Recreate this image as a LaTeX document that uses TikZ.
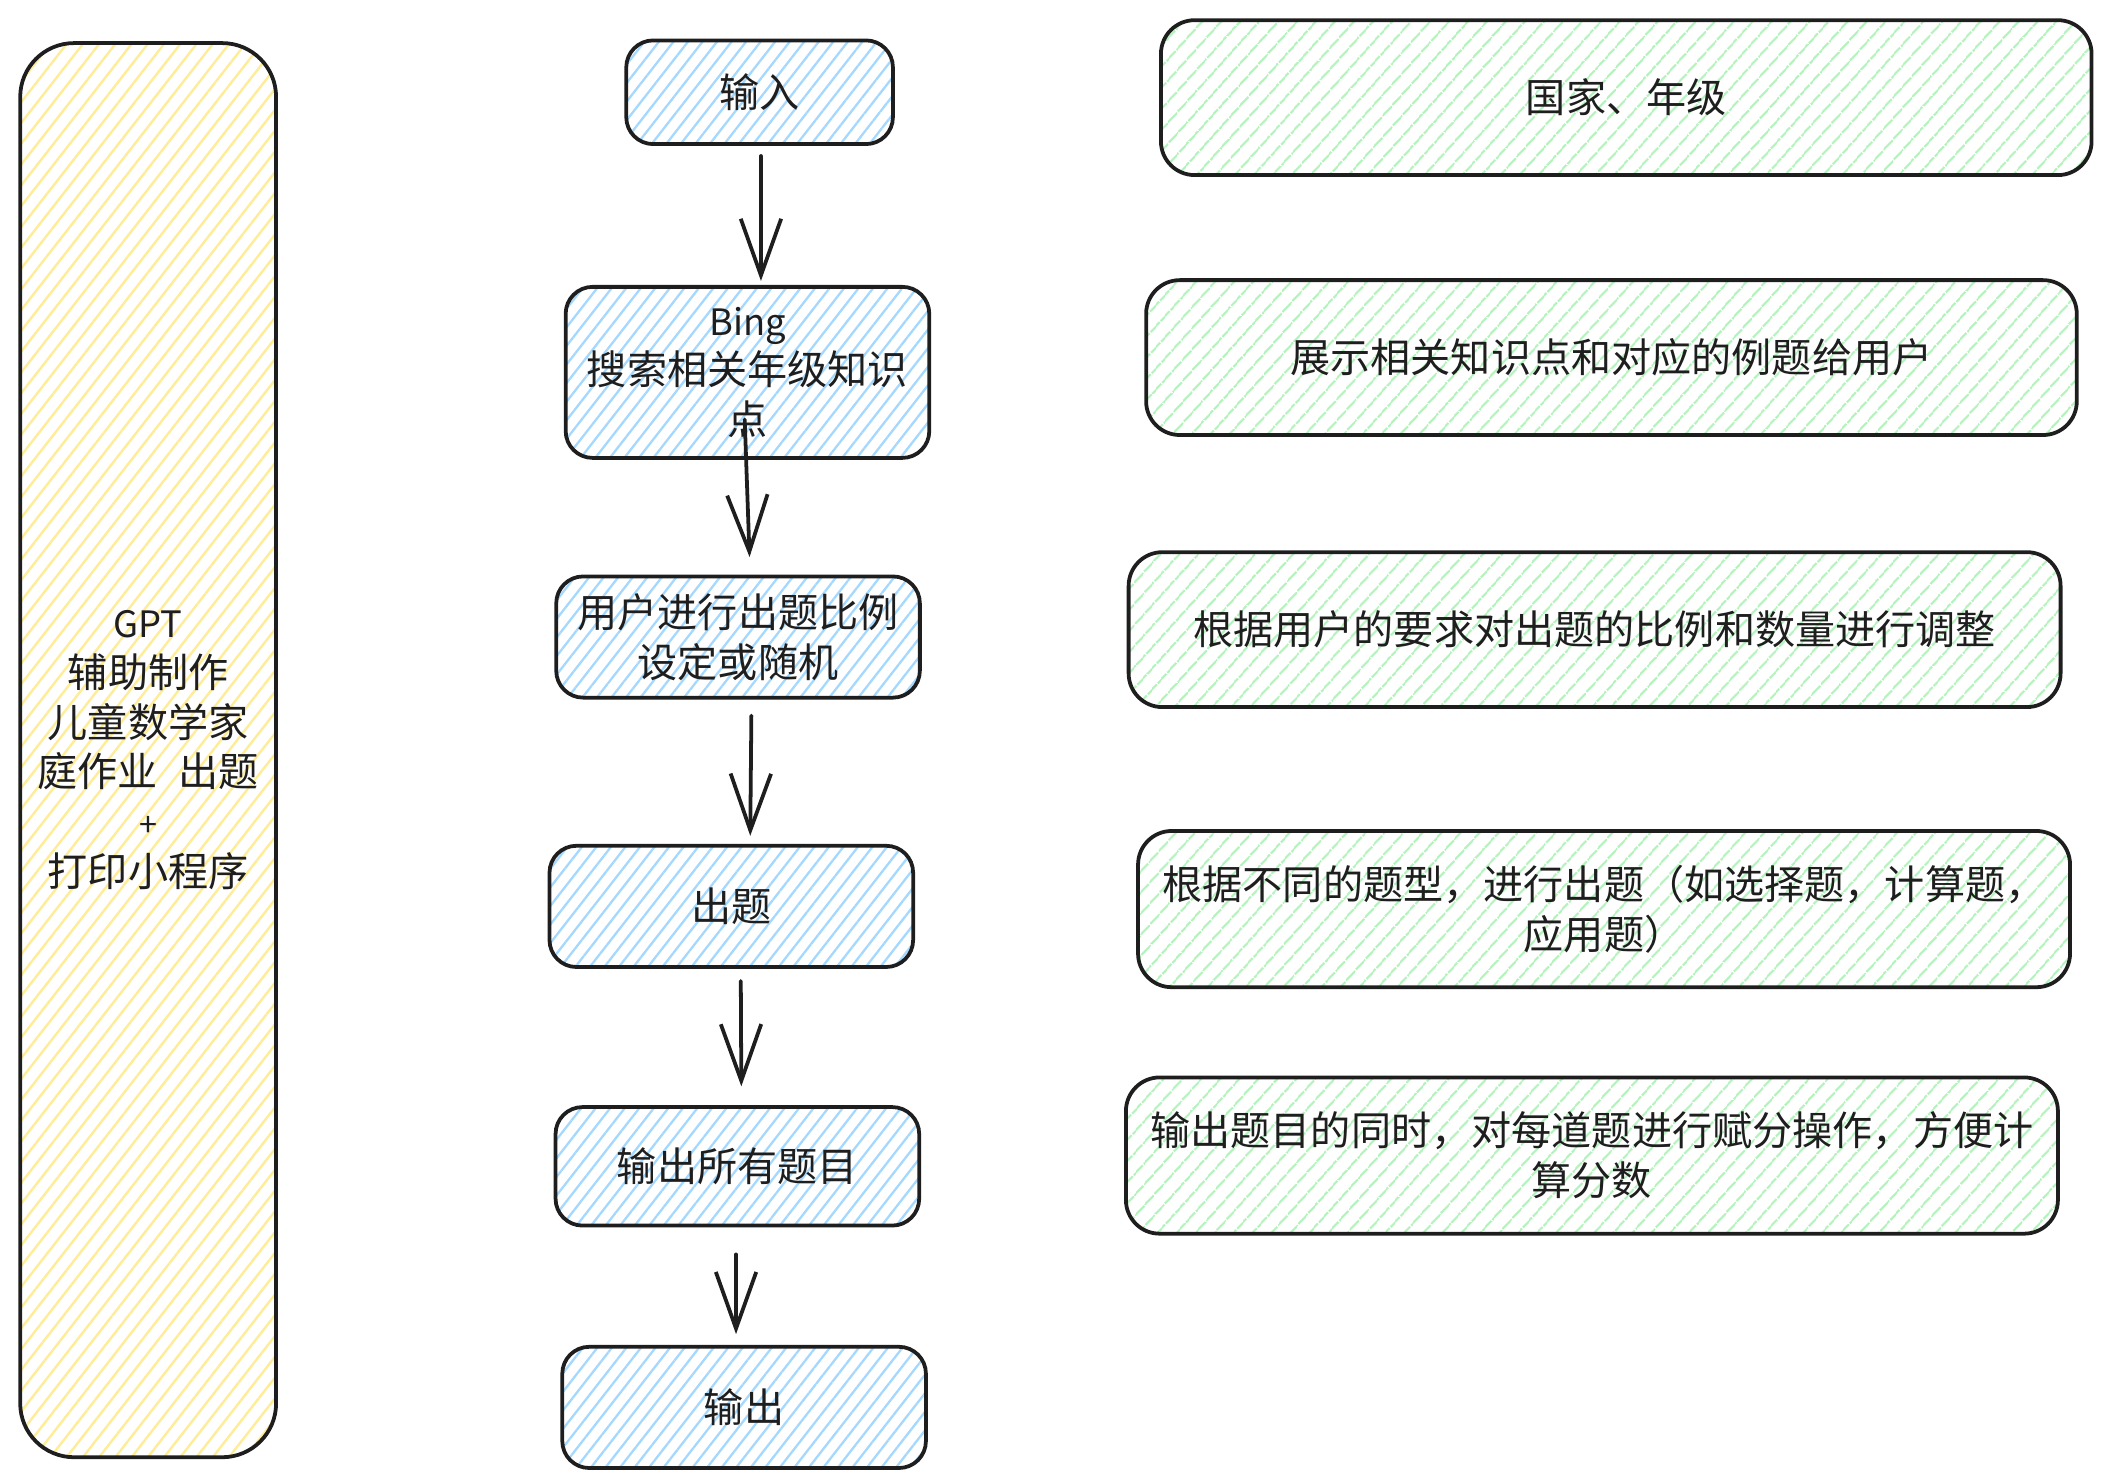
\documentclass[tikz,border=0pt]{standalone}
\usepackage{fontspec}
\setmainfont{Noto Sans CJK SC}
\usetikzlibrary{arrows.meta,patterns.meta}
\definecolor{ink}{HTML}{1E1E1E}
\definecolor{hatchblue}{HTML}{A5D8FF}
\definecolor{hatchgreen}{HTML}{B2F2BB}
\definecolor{hatchyellow}{HTML}{FFEC99}

\begin{document}
\begin{tikzpicture}[x=1pt,y=-1pt,
  every node/.style={draw=ink,line width=2.8pt,text=ink,inner sep=0,align=center,
    font=\fontsize{29.8}{37}\selectfont},
  side/.style={rounded corners=40pt,minimum width=190pt,minimum height=1050pt,
    pattern={Lines[angle=52,distance=9.5pt,line width=1.8pt]},pattern color=hatchyellow},
  flow/.style={rounded corners=20pt,minimum width=270pt,minimum height=90pt,
    pattern={Lines[angle=52,distance=8.5pt,line width=1.7pt]},pattern color=hatchblue},
  note/.style={rounded corners=25pt,minimum width=692pt,minimum height=115pt,
    pattern={Lines[angle=48,distance=10.5pt,line width=1.8pt]},pattern color=hatchgreen},
  arr/.style={draw=ink,line width=2.8pt,line cap=round,-{Straight Barb[length=42pt,width=30pt]}},
  hand/.style={}]
\useasboundingbox (0,0) rectangle (1560,1099);

% left column
\node[side] (gpt) at (110,557) {{\fontsize{27}{37}\selectfont GPT}\\辅助制作\\儿童数学家\\庭作业\hspace{15pt}出题\\{\fontsize{24}{37}\selectfont +}\\打印小程序};

% main flow
\node[flow,minimum width=198pt,minimum height=77pt] (in) at (564,68.5) {输入};
\node[flow,minimum height=127pt] (bing) at (555,276.5) {{\fontsize{27}{37}\selectfont Bing}\\搜索相关年级知识\\点};
\node[flow] (ratio) at (548,473) {用户进行出题比例\\设定或随机};
\node[flow] (task) at (543,673) {出题};
\node[flow,minimum height=88pt] (all) at (547.5,866) {输出所有题目};
\node[flow] (out) at (552.5,1045) {输出};

\draw[arr,shorten <=8pt,shorten >=3pt] ([xshift=1pt]in.south) -- ([xshift=10pt]bing.north);
\draw[arr,shorten <=-30pt,shorten >=13pt] ([xshift=-1pt]bing.south) -- ([xshift=9pt]ratio.north);
\draw[arr,shorten <=12pt,shorten >=6pt] ([xshift=10pt]ratio.south) -- ([xshift=14pt]task.north);
\draw[arr,shorten <=9pt,shorten >=14pt] ([xshift=7pt]task.south) -- ([xshift=3pt]all.north);
\draw[arr,shorten <=20pt,shorten >=8pt] ([xshift=-1pt]all.south) -- ([xshift=-6pt]out.north);

% notes
\node[note,minimum width=691pt] (country) at (1207.5,72.5) {国家、年级};
\node[note,minimum width=691pt] (show) at (1196.5,265.5) {展示相关知识点和对应的例题给用户};
\node[note] (adjust) at (1184,467.5) {根据用户的要求对出题的比例和数量进行调整};
\node[note,minimum height=116pt] (types) at (1191,675) {根据不同的题型，进行出题（如选择题，计算题，\\应用题）};
\node[note,minimum height=116pt] (score) at (1182,858) {输出题目的同时，对每道题进行赋分操作，方便计\\算分数};

\end{tikzpicture}
\end{document}
